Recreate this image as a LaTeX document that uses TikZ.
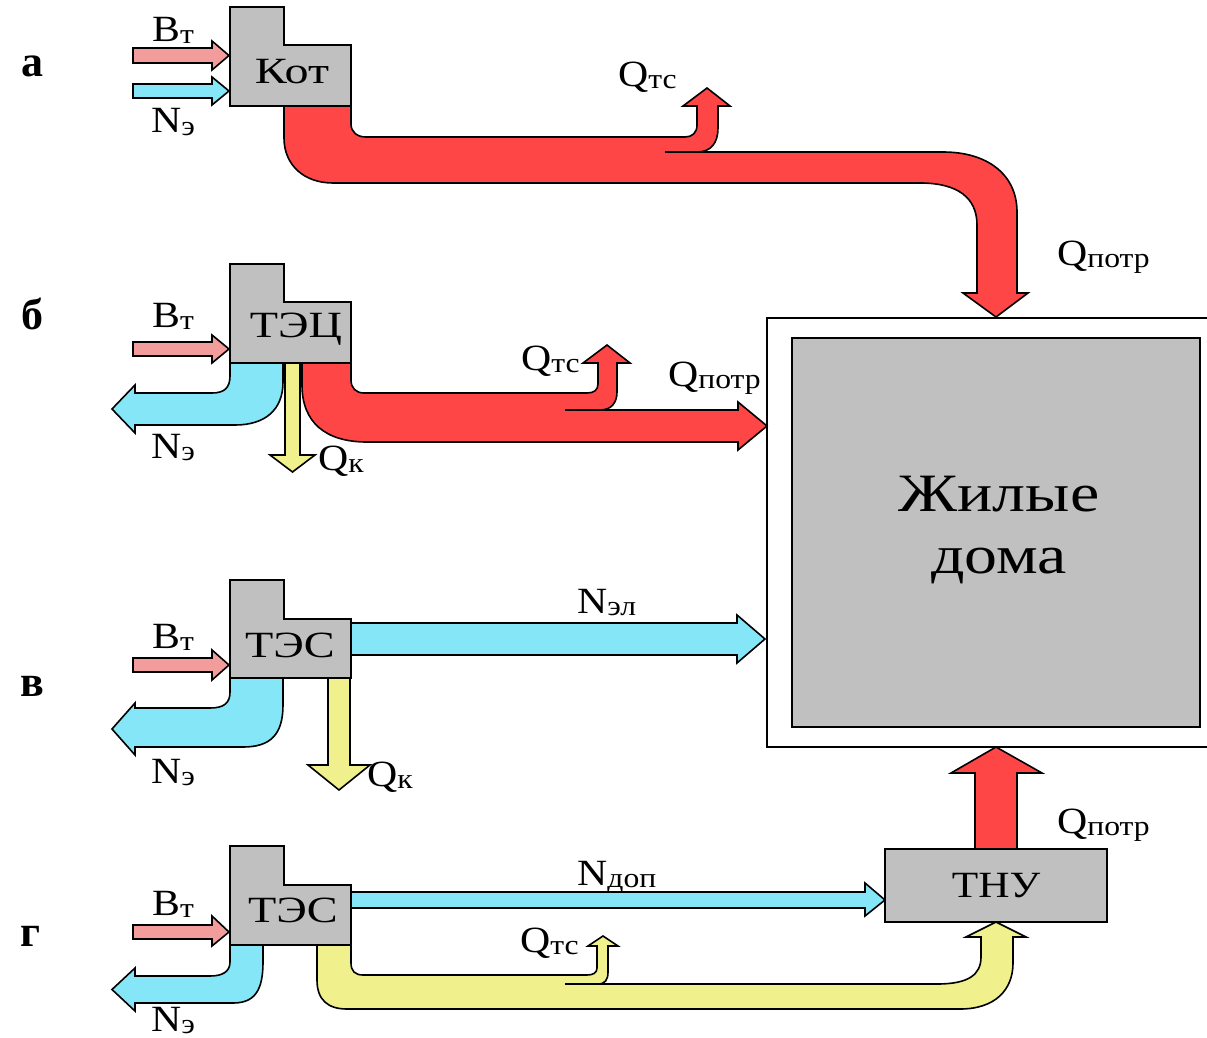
\documentclass[tikz,border=0pt]{standalone}
\usepackage{graphicx}
\usepackage{fontspec}
\setmainfont{Liberation Serif}
\definecolor{cred}{HTML}{FF4646}
\definecolor{cpink}{HTML}{F29C9C}
\definecolor{ccyan}{HTML}{84E6F6}
\definecolor{cyel}{HTML}{F0F08C}
\definecolor{cgray}{HTML}{C0C0C0}
\newcommand\lb[2]{\scalebox{1.13}[1]{#1{\fontsize{28}{28}\selectfont\raisebox{-2pt}{#2}}}}
\newcommand\wide[2]{\scalebox{#1}[1]{#2}}
\tikzset{
  flow/.style={draw=black, line width=1.6pt, line join=miter},
  plant/.style={draw=black, fill=cgray, line width=1.6pt},
  lab/.style={anchor=base west, inner sep=0pt, font=\fontsize{37}{40}\selectfont},
  plantname/.style={inner sep=0pt, font=\fontsize{37}{40}\selectfont},
  panel/.style={inner sep=0pt, font=\fontsize{44}{48}\selectfont\bfseries}
}
\begin{document}
\begin{tikzpicture}[x=1pt,y=-1pt]
\useasboundingbox (0,0) rectangle (1207,1038);
% ---------- houses ----------
\draw[fill=white, line width=1.6pt] (767,318) rectangle (1240,747);
\draw[plant] (792,338) rectangle (1200,727);
\node[inner sep=0pt, align=center, font=\fontsize{54}{62}\selectfont] (houses) at (999,530) {\wide{1.22}{Жилые}\\\wide{1.22}{дома}};

% ---------- panel a ----------
\draw[flow, fill=cred] (284,106) -- (351,106) -- (351,124) .. controls (351,132) and (357,137) .. (366,137)
  -- (685,137) .. controls (692,137) and (697,133) .. (697,125) -- (697,106) -- (683,106) -- (707,88) -- (730,106) -- (718,106)
  -- (718,128) .. controls (718,143) and (711,152) .. (697,152)
  -- (943,152) .. controls (988,152) and (1017,175) .. (1017,212) -- (1017,293) -- (1028,293) -- (996,317) -- (963,293) -- (977,293)
  -- (977,225) .. controls (977,198) and (958,183) .. (920,183)
  -- (333,183) .. controls (304,183) and (284,165) .. (284,138) -- cycle;
\draw[flow] (665,152) -- (697,152);
\draw[flow, fill=cpink] (133,48) -- (212,48) -- (212,41) -- (229,55.5) -- (212,70) -- (212,63) -- (133,63) -- cycle;
\draw[flow, fill=ccyan] (133,84) -- (212,84) -- (212,77) -- (229,91) -- (212,105) -- (212,98) -- (133,98) -- cycle;
\draw[plant] (230,7) -- (284,7) -- (284,45) -- (351,45) -- (351,106) -- (230,106) -- cycle;
\node[plantname] (kot) at (292,72) {\wide{1.3}{Кот}};
\node[lab] (aB) at (152,42) {\lb{B}{т}};
\node[lab] (aN) at (151,133) {\lb{N}{э}};
\node[lab] (aQts) at (618,87) {\lb{Q}{тс}};
\node[lab] (aQp) at (1057,265) {\lb{Q}{потр}};
\node[panel] (pa) at (32,66) {а};

% ---------- panel b ----------
\draw[flow, fill=ccyan] (230,363) -- (283,363) -- (283,382) .. controls (283,410) and (265,425) .. (235,425)
  -- (135,425) -- (135,433) -- (112,409) -- (135,385) -- (135,393) -- (212,393) .. controls (224,393) and (230,388) .. (230,376) -- cycle;
\draw[flow, fill=cyel] (285,363) -- (285,455) -- (270,455) -- (292.5,472) -- (315,455) -- (300,455) -- (300,363) -- cycle;
\draw[flow, fill=cred] (302,363) -- (302,385) .. controls (302,422) and (325,442) .. (367,442) -- (738,442) -- (738,450) -- (767,426) -- (738,402) -- (738,410)
  -- (600,410) .. controls (612,410) and (617,402) .. (617,392) -- (617,363) -- (630,363) -- (607,345) -- (583,363) -- (598,363)
  -- (598,384) .. controls (598,390) and (594,393) .. (587,393) -- (364,393) .. controls (356,393) and (351,388) .. (351,380) -- (351,363) -- cycle;
\draw[flow] (565,410) -- (600,410);
\draw[flow, fill=cpink] (133,342) -- (212,342) -- (212,335) -- (229,349) -- (212,363) -- (212,356) -- (133,356) -- cycle;
\draw[plant] (230,264) -- (284,264) -- (284,302) -- (351,302) -- (351,363) -- (230,363) -- cycle;
\node[plantname] (tec) at (296,329) {\wide{1.25}{ТЭЦ}};
\node[lab] (bB) at (152,327) {\lb{B}{т}};
\node[lab] (bN) at (151,458) {\lb{N}{э}};
\node[lab] (bQk) at (318,470) {\lb{Q}{к}};
\node[lab] (bQts) at (521,370) {\lb{Q}{тс}};
\node[lab] (bQp) at (668,386) {\lb{Q}{потр}};
\node[panel] (pb) at (32,314) {б};

% ---------- panel v ----------
\draw[flow, fill=ccyan] (351,623) -- (737,623) -- (737,615) -- (765,639) -- (737,663) -- (737,655) -- (351,655) -- cycle;
\draw[flow, fill=ccyan] (230,678) -- (283,678) -- (283,705) .. controls (283,735) and (270,747) .. (243,747)
  -- (135,747) -- (135,755) -- (112,729) -- (135,703) -- (135,708) -- (210,708) .. controls (224,708) and (230,703) .. (230,692) -- cycle;
\draw[flow, fill=cyel] (328,678) -- (328,765) -- (308,765) -- (339,790) -- (370,765) -- (350,765) -- (350,678) -- cycle;
\draw[flow, fill=cpink] (133,658) -- (212,658) -- (212,650) -- (229,665) -- (212,680) -- (212,672) -- (133,672) -- cycle;
\draw[plant] (230,580) -- (284,580) -- (284,619) -- (351,619) -- (351,678) -- (230,678) -- cycle;
\node[plantname] (tes1) at (290,645) {\wide{1.25}{ТЭС}};
\node[lab] (vB) at (152,648) {\lb{B}{т}};
\node[lab] (vN) at (151,783) {\lb{N}{э}};
\node[lab] (vQk) at (367,786) {\lb{Q}{к}};
\node[lab] (vNel) at (577,613) {\lb{N}{эл}};
\node[panel] (pv) at (32,686) {в};

% ---------- panel g ----------
\draw[flow, fill=cred] (975,849) -- (975,773) -- (951,773) -- (996,747) -- (1042,773) -- (1017,773) -- (1017,849) -- cycle;
\draw[flow, fill=cyel] (317,945) -- (317,980) .. controls (317,1000) and (328,1009) .. (347,1009) -- (960,1009) .. controls (995,1009) and (1013,990) .. (1013,963)
  -- (1013,937) -- (1026,937) -- (996,922) -- (966,937) -- (981,937) -- (981,957) .. controls (981,975) and (968,984) .. (937,984)
  -- (598,984) .. controls (605,984) and (608,980) .. (608,972) -- (608,946) -- (618,946) -- (603,936) -- (588,946) -- (597,946)
  -- (597,968) .. controls (597,973) and (593,975) .. (587,975) -- (363,975) .. controls (355,975) and (351,971) .. (351,963) -- (351,945) -- cycle;
\draw[flow] (565,984) -- (598,984);
\draw[flow, fill=ccyan] (351,892) -- (865,892) -- (865,883) -- (885,900) -- (865,916) -- (865,908) -- (351,908) -- cycle;
\draw[flow, fill=ccyan] (230,945) -- (263,945) -- (263,962) .. controls (263,990) and (255,1003) .. (233,1003)
  -- (135,1003) -- (135,1011) -- (112,989.5) -- (135,968) -- (135,976) -- (210,976) .. controls (222,976) and (230,972) .. (230,962) -- cycle;
\draw[flow, fill=cpink] (133,925) -- (212,925) -- (212,916) -- (229,932) -- (212,946) -- (212,939) -- (133,939) -- cycle;
\draw[plant] (230,846) -- (284,846) -- (284,885) -- (351,885) -- (351,945) -- (230,945) -- cycle;
\node[plantname] (tes2) at (293,910) {\wide{1.25}{ТЭС}};
\node[plant, minimum width=222pt, minimum height=73pt, font=\fontsize{37}{40}\selectfont] (thu) at (996,885.5) {\wide{1.17}{ТНУ}};
\node[lab] (gB) at (152,915) {\lb{B}{т}};
\node[lab] (gN) at (151,1031) {\lb{N}{э}};
\node[lab] (gQts) at (520,952) {\lb{Q}{тс}};
\node[lab] (gNd) at (577,885) {\lb{N}{доп}};
\node[lab] (gQp) at (1057,833) {\lb{Q}{потр}};
\node[panel] (pg) at (30,936) {г};
\end{tikzpicture}
\end{document}
